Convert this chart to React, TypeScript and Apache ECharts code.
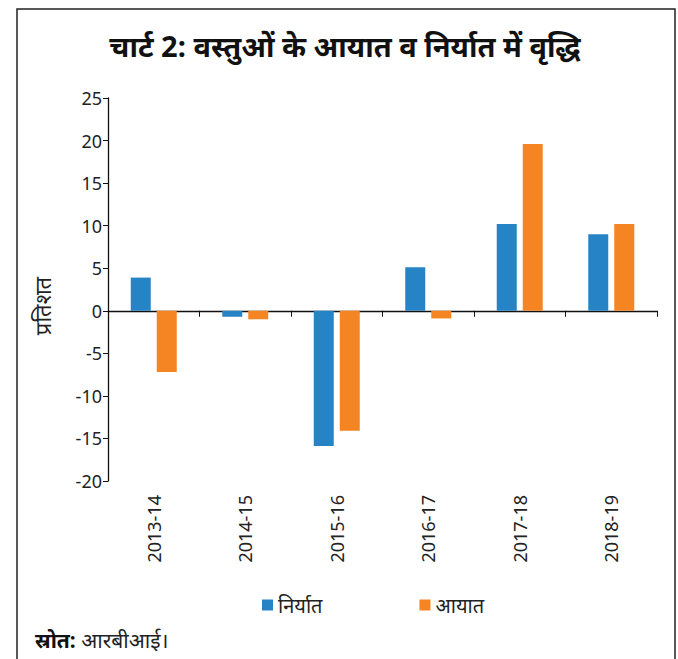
import React, { useEffect, useRef } from "react";
import * as echarts from "echarts";

const categories = ["2013-14", "2014-15", "2015-16", "2016-17", "2017-18", "2018-19"];
const exportsGrowth = [3.9, -0.7, -15.9, 5.1, 10.2, 9.0];
const importsGrowth = [-7.2, -1.0, -14.1, -0.9, 19.6, 10.2];
const seriesNames = ["निर्यात", "आयात"];
const titleText = "चार्ट 2: वस्तुओं के आयात व निर्यात में वृद्धि";
const yAxisName = "प्रतिशत";
const sourceLabel = "स्रोत:";
const sourceText = " आरबीआई।";

const FONT = "'Noto Sans', 'Open Sans', sans-serif";

export default function App() {
  const ref = useRef<HTMLDivElement>(null);
  useEffect(() => {
    if (!ref.current) return;
    const chart = echarts.init(ref.current, undefined, { renderer: "svg" });
    chart.setOption({
      animation: false,
      backgroundColor: "#ffffff",
      textStyle: { fontFamily: FONT },
      graphic: [
        {
          type: "rect",
          shape: { x: 17, y: 9, width: 658, height: 680 },
          style: { fill: "none", stroke: "#222", lineWidth: 1.5 },
          silent: true,
        },
        {
          type: "text",
          x: 345,
          y: 45,
          style: {
            text: titleText,
            font: `bold 29px ${FONT}`,
            fill: "#111",
            textAlign: "center",
            textVerticalAlign: "middle",
          },
        },
        {
          type: "text",
          x: 42,
          y: 306,
          rotation: Math.PI / 2,
          style: {
            text: yAxisName,
            font: `22px ${FONT}`,
            fill: "#222",
            textAlign: "center",
            textVerticalAlign: "middle",
          },
        },
        {
          type: "text",
          x: 35,
          y: 640,
          style: {
            text: `{b|${sourceLabel}}{n|${sourceText}}`,
            rich: {
              b: { font: `bold 21px ${FONT}`, fill: "#111" },
              n: { font: `21px ${FONT}`, fill: "#222" },
            },
            textAlign: "left",
            textVerticalAlign: "middle",
          },
        },
      ],
      legend: {
        data: seriesNames,
        left: 257,
        top: 590,
        itemWidth: 11,
        itemHeight: 11,
        itemGap: 97,
        icon: "rect",
        textStyle: { fontSize: 20, color: "#222", fontFamily: FONT },
      },
      grid: { left: 108, right: 21, top: 98, bottom: 178, containLabel: false },
      xAxis: [
        {
          type: "category",
          data: categories,
          axisLine: { onZero: true, lineStyle: { color: "#111", width: 1.3 } },
          axisTick: { show: true, length: 6, lineStyle: { color: "#111" } },
          axisLabel: { show: false },
        },
        {
          type: "category",
          data: categories,
          position: "bottom",
          axisLine: { show: false },
          axisTick: { show: false },
          axisLabel: { rotate: 90, margin: 14, fontSize: 18, color: "#222", fontFamily: FONT },
        },
      ],
      yAxis: {
        type: "value",
        min: -20,
        max: 25,
        interval: 5,
        axisLine: { show: true, lineStyle: { color: "#111", width: 1.3 } },
        axisTick: { show: true, length: 5, lineStyle: { color: "#111" } },
        splitLine: { show: false },
        axisLabel: { fontSize: 18, color: "#222", margin: 6, fontFamily: FONT },
      },
      series: [
        {
          name: seriesNames[0],
          type: "bar",
          data: exportsGrowth,
          barWidth: 20,
          barGap: "30%",
          itemStyle: { color: "#2684C6" },
        },
        {
          name: seriesNames[1],
          type: "bar",
          data: importsGrowth,
          barWidth: 20,
          barGap: "30%",
          itemStyle: { color: "#F58422" },
        },
      ],
    });
    return () => chart.dispose();
  }, []);
  return (
    <div
      ref={ref}
      style={{ position: "absolute", left: 0, top: 0, width: 678, height: 659 }}
    />
  );
}
